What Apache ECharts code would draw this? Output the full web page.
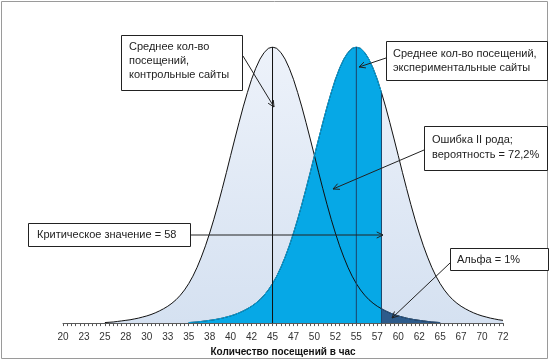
<!DOCTYPE html>
<html>
<head>
<meta charset="utf-8">
<script src="https://cdn.jsdelivr.net/npm/echarts@6/dist/echarts.min.js"></script>
<style>
html,body{margin:0;padding:0;background:#fff;}
#c{width:550px;height:362px;}
</style>
</head>
<body>
<div id="c"></div>
<script>
// Tick labels shown on the x axis (every 5th category)
const tickLabels = ['20','23','25','28','30','33','35','38','40','42','45','47','50','52','55','57','60','62','65','67','70','72'];
const minorPerLabel = 5;

// Control sites distribution (relative height), per category
const controlValues = [
  null,null,null,null,null,null,null,null,null,null,
  0.2,0.3,0.4,0.6,0.8,1.0,1.2,1.5,1.8,2.2,
  2.6,3.1,3.7,4.4,5.2,6.1,7.2,8.5,10.1,12.0,
  14.3,17.0,20.2,23.9,28.0,32.6,37.6,43.0,48.7,54.6,
  60.7,66.7,72.6,78.3,83.5,88.3,92.3,95.6,98.0,99.5,
  100,
  99.5,98.0,95.6,92.3,88.3,83.5,78.3,72.6,66.7,60.7,
  54.6,48.7,43.0,37.6,32.6,28.0,23.9,20.2,17.0,14.3,
  12.0,10.1,8.5,7.2,6.1,5.2,4.4,3.7,3.1,2.6,
  2.2,1.8,1.5,1.2,1.0,0.8,0.6,0.4,0.3,0.2,
  null,null,null,null,null,null,null,null,null,null,null,null,null,null,null
];

// Experimental sites distribution (relative height), per category
const experimentalValues = [
  null,null,null,null,null,null,null,null,null,null,
  null,null,null,null,null,null,null,null,null,null,
  null,null,null,null,null,null,null,null,null,null,
  0.2,0.3,0.4,0.6,0.8,1.0,1.2,1.5,1.8,2.2,
  2.6,3.1,3.7,4.4,5.2,6.1,7.2,8.5,10.1,12.0,
  14.3,17.0,20.2,23.9,28.0,32.6,37.6,43.0,48.7,54.6,
  60.7,66.7,72.6,78.3,83.5,88.3,92.3,95.6,98.0,99.5,
  100,
  99.5,98.0,95.6,92.3,88.3,83.5,78.3,72.6,66.7,60.7,
  54.6,48.7,43.0,37.6,32.6,28.0,23.9,20.2,17.0,14.3,
  12.0,10.1,8.5,7.2,6.1,5.2,4.4,3.7,3.1,2.6,
  2.2,1.8,1.5,1.2,1.0
];

// Category positions of the means (45, 55) and of the critical value (58)
const controlMeanIndex = 50;
const experimentalMeanIndex = 70;
const criticalIndex = 76;

// Build categories: each tick label followed by unlabeled minor categories
const categories = [];
tickLabels.forEach((t, k) => {
  categories.push(t);
  if (k < tickLabels.length - 1) {
    for (let j = 1; j < minorPerLabel; j++) categories.push(t + '_' + j);
  }
});

const typeIIValues = experimentalValues.map((v, i) => (i <= criticalIndex ? v : null));
const alphaValues = controlValues.map((v, i) => (i >= criticalIndex ? v : null));

const FONT = '"Liberation Sans", Arial, sans-serif';
const lightFill = {
  type: 'linear', x: 0, y: 0, x2: 0, y2: 1,
  colorStops: [{offset: 0, color: '#edf2fa'}, {offset: 1, color: '#d5e1f1'}]
};
const BLUE = '#06a8e6';
const NAVY = '#2d5b8b';
const DARKLINE = '#1b4469';

function vline(idx, top, color) {
  return {
    type: 'line', data: [[idx, 0], [idx, top]], symbol: 'none', silent: true,
    lineStyle: {color: color, width: 1}, animation: false
  };
}

const chart = echarts.init(document.getElementById('c'), null, {renderer: 'canvas'});

const option = {
  animation: false,
  backgroundColor: '#fff',
  grid: {left: 63, right: 47, top: 47, bottom: 37},
  xAxis: {
    type: 'category',
    data: categories,
    boundaryGap: false,
    axisLine: {lineStyle: {color: '#595959', width: 1}},
    axisTick: {interval: 0, length: 3, lineStyle: {color: '#595959'}},
    axisLabel: {interval: minorPerLabel - 1, fontSize: 10, color: '#333', margin: 9, fontFamily: FONT},
    name: 'Количество посещений в час',
    nameLocation: 'middle',
    nameGap: 23,
    nameTextStyle: {fontSize: 10, fontWeight: 'bold', color: '#111', fontFamily: FONT}
  },
  yAxis: {type: 'value', min: 0, max: 100, show: false},
  series: [
    {type: 'line', data: controlValues, symbol: 'none', lineStyle: {color: '#111', width: 1}, areaStyle: {color: lightFill, opacity: 1}},
    {type: 'line', data: experimentalValues, symbol: 'none', lineStyle: {color: '#111', width: 1}, areaStyle: {color: lightFill, opacity: 1}},
    {type: 'line', data: typeIIValues, symbol: 'none', lineStyle: {color: BLUE, width: 1}, areaStyle: {color: BLUE, opacity: 1}},
    {type: 'line', data: alphaValues, symbol: 'none', lineStyle: {color: NAVY, width: 1}, areaStyle: {color: NAVY, opacity: 1}},
    vline(controlMeanIndex, controlValues[controlMeanIndex], '#111'),
    vline(experimentalMeanIndex, experimentalValues[experimentalMeanIndex], DARKLINE),
    vline(criticalIndex, experimentalValues[criticalIndex], DARKLINE)
  ]
};
chart.setOption(option);

// Annotation graphics (boxes, labels, arrows)
function arrow(x1, y1, x2, y2) {
  const ang = Math.atan2(y2 - y1, x2 - x1);
  const L = 7, a = 0.45;
  const p1 = [x2 - L * Math.cos(ang - a), y2 - L * Math.sin(ang - a)];
  const p2 = [x2 - L * Math.cos(ang + a), y2 - L * Math.sin(ang + a)];
  return [
    {type: 'line', shape: {x1, y1, x2, y2}, style: {stroke: '#222', lineWidth: 1}, z: 100},
    {type: 'polyline', shape: {points: [p1, [x2, y2], p2]}, style: {stroke: '#222', lineWidth: 1, fill: null}, z: 100}
  ];
}
function box(x, y, w, h, lines, tx, ty, lh) {
  const els = [{type: 'rect', shape: {x: x + 0.5, y: y + 0.5, width: w, height: h}, style: {fill: '#fff', stroke: '#222', lineWidth: 1}, z: 101}];
  lines.forEach((t, i) => {
    els.push({type: 'text', x: tx, y: ty + i * lh, style: {text: t, font: '11px ' + FONT, fill: '#222', verticalAlign: 'middle', align: 'left'}, z: 102});
  });
  return els;
}

let g = [];
g.push({type: 'rect', shape: {x: 1.5, y: 1.5, width: 546, height: 357}, style: {fill: null, stroke: '#9a9a9a', lineWidth: 1}, z: 99});
g = g.concat(box(121, 35, 121, 55, ['Среднее кол-во', 'посещений,', 'контрольные сайты'], 129, 47, 14));
g = g.concat(arrow(243, 56, 274, 107));
g = g.concat(box(386, 41, 161, 39, ['Среднее кол-во посещений,', 'экспериментальные сайты'], 393, 53.5, 14));
g = g.concat(arrow(386, 58, 359, 67));
g = g.concat(box(424, 126, 123, 44, ['Ошибка II рода;', 'вероятность = 72,2%'], 432, 140, 15));
g = g.concat(arrow(424, 150, 333, 189));
g = g.concat(box(28, 223, 162, 23, ['Критическое значение = 58'], 37, 235, 14));
g = g.concat(arrow(191, 235, 383, 235));
g = g.concat(box(450, 248, 98, 22, ['Альфа = 1%'], 457, 259.5, 14));
g = g.concat(arrow(450, 263, 392, 318));

chart.setOption({graphic: {elements: g}});
</script>
</body>
</html>
